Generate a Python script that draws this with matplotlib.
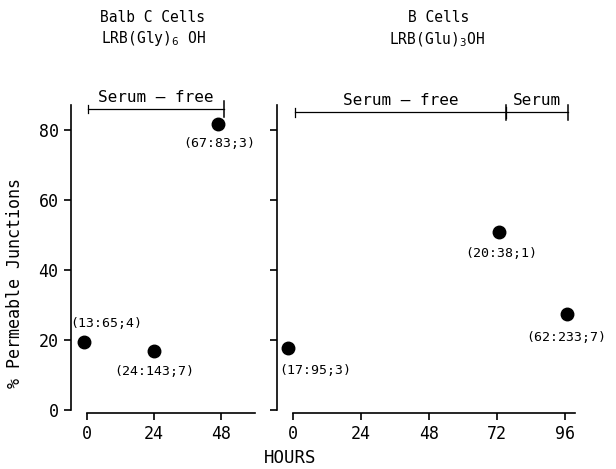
import matplotlib
matplotlib.use("Agg")
import matplotlib.pyplot as plt

plt.rcParams["font.family"] = ["DejaVu Sans Mono", "DejaVu Sans"]
plt.rcParams["mathtext.fontset"] = "dejavusans"

# Balb C cells, LRB(Gly)6 OH
balb_hours = [-1.2, 24, 47]
balb_pct = [19.4, 16.8, 81.7]
balb_labels = ["(13:65;4)", "(24:143;7)", "(67:83;3)"]
balb_offsets = [(16.5, 13.5), (0, -15), (0.7, -14.4)]
balb_periods = [("Serum — free", 0.3, 49)]

# B cells, LRB(Glu)3 OH
b_hours = [-1.8, 72.6, 96.6]
b_pct = [17.7, 50.7, 27.3]
b_labels = ["(17:95;3)", "(20:38;1)", "(62:233;7)"]
b_offsets = [(19.5, -16), (2, -15), (-0.7, -16.5)]
b_periods = [("Serum — free", 0.7, 75.2), ("Serum", 75.2, 97)]

yticks = [0, 20, 40, 60, 80]


def style_axis(ax, xticks, xmax):
    for side in ("top", "right"):
        ax.spines[side].set_visible(False)
    for side in ("left", "bottom"):
        ax.spines[side].set_linewidth(1.2)
    ax.spines["bottom"].set_position(("outward", 2))
    ax.spines["bottom"].set_bounds(0, xmax)
    ax.set_ylim(0, 87)
    ax.set_yticks(yticks)
    ax.set_xticks(xticks)
    ax.tick_params(direction="out", length=5, width=1.2, labelsize=12, pad=4)


def draw_periods(ax, periods, y):
    for i, (label, x0, x1) in enumerate(periods):
        ax.plot([x0, x1], [y, y], color="black", lw=0.9, clip_on=False)
        h0 = 1.2 if i == 0 else 1.5
        ax.plot([x0, x0], [y - h0, y + h0], color="black", lw=0.9, clip_on=False)
        ax.plot([x1, x1], [y - 2.2, y + 2.2], color="black", lw=1.1, clip_on=False)
        ax.text((x0 + x1) / 2, y + 1.2, label, ha="center", va="bottom",
                fontsize=11.5)


def draw_points(ax, hours, pct, labels, offsets):
    ax.plot(hours, pct, "o", color="black", markersize=9, linestyle="none",
            clip_on=False)
    for x, y, lab, off in zip(hours, pct, labels, offsets):
        ax.annotate(lab, (x, y), xytext=off, textcoords="offset points",
                    ha="center", va="center", fontsize=9.5)


fig = plt.figure(figsize=(6.16, 4.69), dpi=100)
ax1 = fig.add_axes([71 / 616, 1 - 410 / 469, 184 / 616, 305 / 469])
ax2 = fig.add_axes([277 / 616, 1 - 410 / 469, 298 / 616, 305 / 469])

style_axis(ax1, [0, 24, 48], 60.2)
ax1.set_xlim(-5.7, 60.2)
style_axis(ax2, [0, 24, 48, 72, 96], 99.5)
ax2.set_xlim(-5.6, 99.5)
ax2.set_yticklabels([])

draw_points(ax1, balb_hours, balb_pct, balb_labels, balb_offsets)
draw_points(ax2, b_hours, b_pct, b_labels, b_offsets)
draw_periods(ax1, balb_periods, 85.8)
draw_periods(ax2, b_periods, 84.9)

fig.text(153 / 616, 1 - 17 / 469, "Balb C Cells", ha="center", va="center",
         fontsize=10.5)
fig.text(153 / 616, 1 - 39 / 469, r"LRB(Gly)$_6$ OH", ha="center",
         va="center", fontsize=10.5)
fig.text(439 / 616, 1 - 18 / 469, "B Cells", ha="center", va="center",
         fontsize=10.5)
fig.text(437 / 616, 1 - 40 / 469, r"LRB(Glu)$_3$OH", ha="center",
         va="center", fontsize=10.5)

fig.text(15 / 616, 1 - 283 / 469, "% Permeable Junctions", rotation=90,
         ha="center", va="center", fontsize=12)
fig.text(290 / 616, 1 - 458 / 469, "HOURS", ha="center", va="center",
         fontsize=12.5)

fig.savefig("out.png", dpi=100)
